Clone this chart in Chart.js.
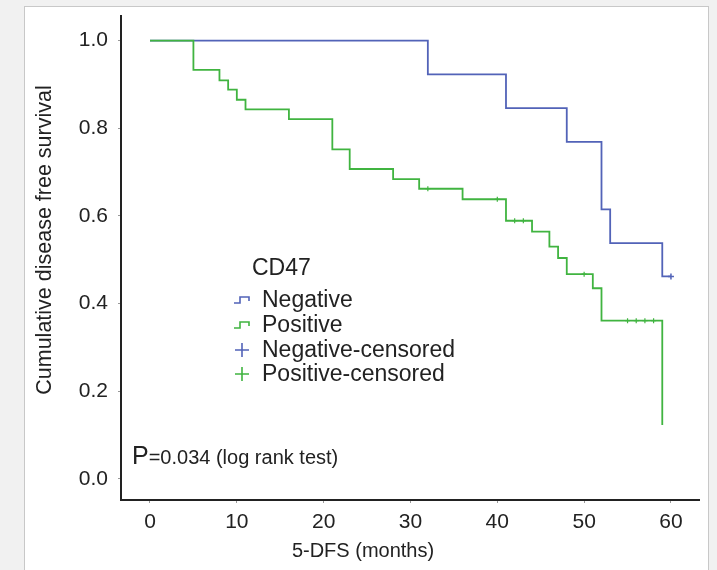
<!DOCTYPE html>
<html><head><meta charset="utf-8">
<script src="https://cdn.jsdelivr.net/npm/chart.js@4/dist/chart.umd.min.js"></script>
<style>
html,body{margin:0;padding:0;background:#f1f1f1;}
#wrap{position:relative;width:717px;height:570px;overflow:hidden;}
canvas{display:block;}
</style>
</head><body>
<div id="wrap"><canvas id="c" width="717" height="570"></canvas></div>
<script>
// ---- data ----
const legendTitle = 'CD47';
const seriesNames = ['Negative', 'Positive', 'Negative-censored', 'Positive-censored'];
const negTimes = [0, 32, 41, 48, 52, 53, 59, 60];
const negSurv  = [1.0, 0.923, 0.846, 0.769, 0.615, 0.538, 0.462, 0.462];
const posTimes = [0, 5, 8, 9, 10, 11, 16, 21, 23, 28, 31, 36, 41, 44, 46, 47, 48, 51, 52, 59];
const posSurv  = [1.0, 0.933, 0.909, 0.888, 0.865, 0.843, 0.821, 0.752, 0.707, 0.684, 0.662, 0.638, 0.589, 0.564, 0.530, 0.504, 0.467, 0.435, 0.361, 0.123];
const negCensorTimes = [60];
const negCensorSurv  = [0.462];
const posCensorTimes = [32, 40, 42, 43, 50, 55, 56, 57, 58];
const posCensorSurv  = [0.662, 0.638, 0.589, 0.589, 0.467, 0.361, 0.361, 0.361, 0.361];
const xTicks = [0, 10, 20, 30, 40, 50, 60];
const yTicks = [0, 0.2, 0.4, 0.6, 0.8, 1.0];
const xTitle = '5-DFS (months)';
const yTitle = 'Cumulative disease free survival';
const pLead = 'P';
const pRest = '=0.034 (log rank test)';

// ---- styles ----
const FONT = '"Liberation Sans", Arial, Helvetica, sans-serif';
const BLUE = '#5263b8';
const GREEN = '#40b440';
const TEXT = '#222';

const pts = (xs, ys) => xs.map((x, i) => ({x: x, y: ys[i]}));

const decor = {
  id: 'decor',
  beforeDraw(chart) {
    const ctx = chart.ctx;
    ctx.save();
    ctx.fillStyle = '#f1f1f1';
    ctx.fillRect(0, 0, chart.width, chart.height);
    ctx.fillStyle = '#ffffff';
    ctx.fillRect(24, 6, 685, 600);
    ctx.strokeStyle = '#c8c8c8';
    ctx.lineWidth = 1;
    ctx.strokeRect(24.5, 6.5, 684, 600);
    ctx.restore();
  },
  afterDraw(chart) {
    const ctx = chart.ctx;
    const ds = chart.data.datasets;
    ctx.save();
    ctx.fillStyle = TEXT;
    // y title
    ctx.font = '21.5px ' + FONT;
    ctx.textAlign = 'center';
    ctx.textBaseline = 'middle';
    ctx.save();
    ctx.translate(45, 240);
    ctx.rotate(-Math.PI / 2);
    ctx.fillText(yTitle, 0, 0);
    ctx.restore();
    // x title
    ctx.font = '20px ' + FONT;
    ctx.fillText(xTitle, 363, 551);
    // legend
    ctx.textAlign = 'left';
    ctx.font = '23px ' + FONT;
    ctx.fillText(legendTitle, 252, 269);
    const rows = [300, 325, 350, 374];
    ds.forEach((d, i) => {
      const y = rows[i];
      ctx.fillStyle = TEXT;
      ctx.fillText(d.label, 262, y + 1);
      ctx.strokeStyle = d.borderColor;
      ctx.lineWidth = 1.6;
      ctx.beginPath();
      if (i < 2) {
        ctx.moveTo(234, y + 3);
        ctx.lineTo(240, y + 3);
        ctx.lineTo(240, y - 3);
        ctx.lineTo(249, y - 3);
        ctx.lineTo(249, y + 1);
      } else {
        ctx.moveTo(235, y);
        ctx.lineTo(249, y);
        ctx.moveTo(242, y - 7);
        ctx.lineTo(242, y + 7);
      }
      ctx.stroke();
    });
    // p-value text
    ctx.fillStyle = TEXT;
    ctx.font = '25px ' + FONT;
    ctx.fillText(pLead, 132, 457);
    const w = ctx.measureText(pLead).width;
    ctx.font = '20px ' + FONT;
    ctx.fillText(pRest, 132 + w, 458);
    ctx.restore();
  }
};

new Chart(document.getElementById('c'), {
  type: 'line',
  data: {
    datasets: [
      {label: seriesNames[0], data: pts(negTimes, negSurv), stepped: true, borderColor: BLUE, borderWidth: 1.8, pointRadius: 0, fill: false, order: 2},
      {label: seriesNames[1], data: pts(posTimes, posSurv), stepped: true, borderColor: GREEN, borderWidth: 1.8, pointRadius: 0, fill: false, order: 1},
      {label: seriesNames[2], type: 'scatter', data: pts(negCensorTimes, negCensorSurv), showLine: false, pointStyle: 'cross', pointRadius: 3, borderColor: BLUE, backgroundColor: BLUE, borderWidth: 1.5, order: 0},
      {label: seriesNames[3], type: 'scatter', data: pts(posCensorTimes, posCensorSurv), showLine: false, pointStyle: 'cross', pointRadius: 2.5, borderColor: GREEN, backgroundColor: GREEN, borderWidth: 1.2, order: 0}
    ]
  },
  options: {
    responsive: false,
    devicePixelRatio: 1,
    animation: false,
    layout: {padding: {top: 16, right: 18, bottom: 0, left: 0}},
    plugins: {legend: {display: false}, tooltip: {enabled: false}},
    scales: {
      x: {
        type: 'linear', min: -3.34, max: 63.23,
        afterBuildTicks: s => { s.ticks = xTicks.map(v => ({value: v})); },
        afterFit: s => { s.height = 70; s.paddingLeft = 0; s.paddingRight = 0; },
        ticks: {font: {size: 21, family: FONT}, color: TEXT, padding: 7, maxRotation: 0, autoSkip: false, callback: v => String(v)},
        grid: {display: true, drawOnChartArea: false, drawTicks: true, tickLength: 3, color: '#999', lineWidth: 1},
        border: {display: true, color: '#222', width: 2}
      },
      y: {
        type: 'linear', min: -0.048, max: 1.056,
        afterBuildTicks: s => { s.ticks = yTicks.map(v => ({value: v})); },
        afterFit: s => { s.width = 121; s.paddingTop = 0; s.paddingBottom = 0; },
        ticks: {font: {size: 21, family: FONT}, color: TEXT, padding: 10, autoSkip: false, callback: v => Number(v).toFixed(1)},
        grid: {display: true, drawOnChartArea: false, drawTicks: true, tickLength: 3, color: '#999', lineWidth: 1},
        border: {display: true, color: '#222', width: 2}
      }
    }
  },
  plugins: [decor]
});
</script>
</body></html>
